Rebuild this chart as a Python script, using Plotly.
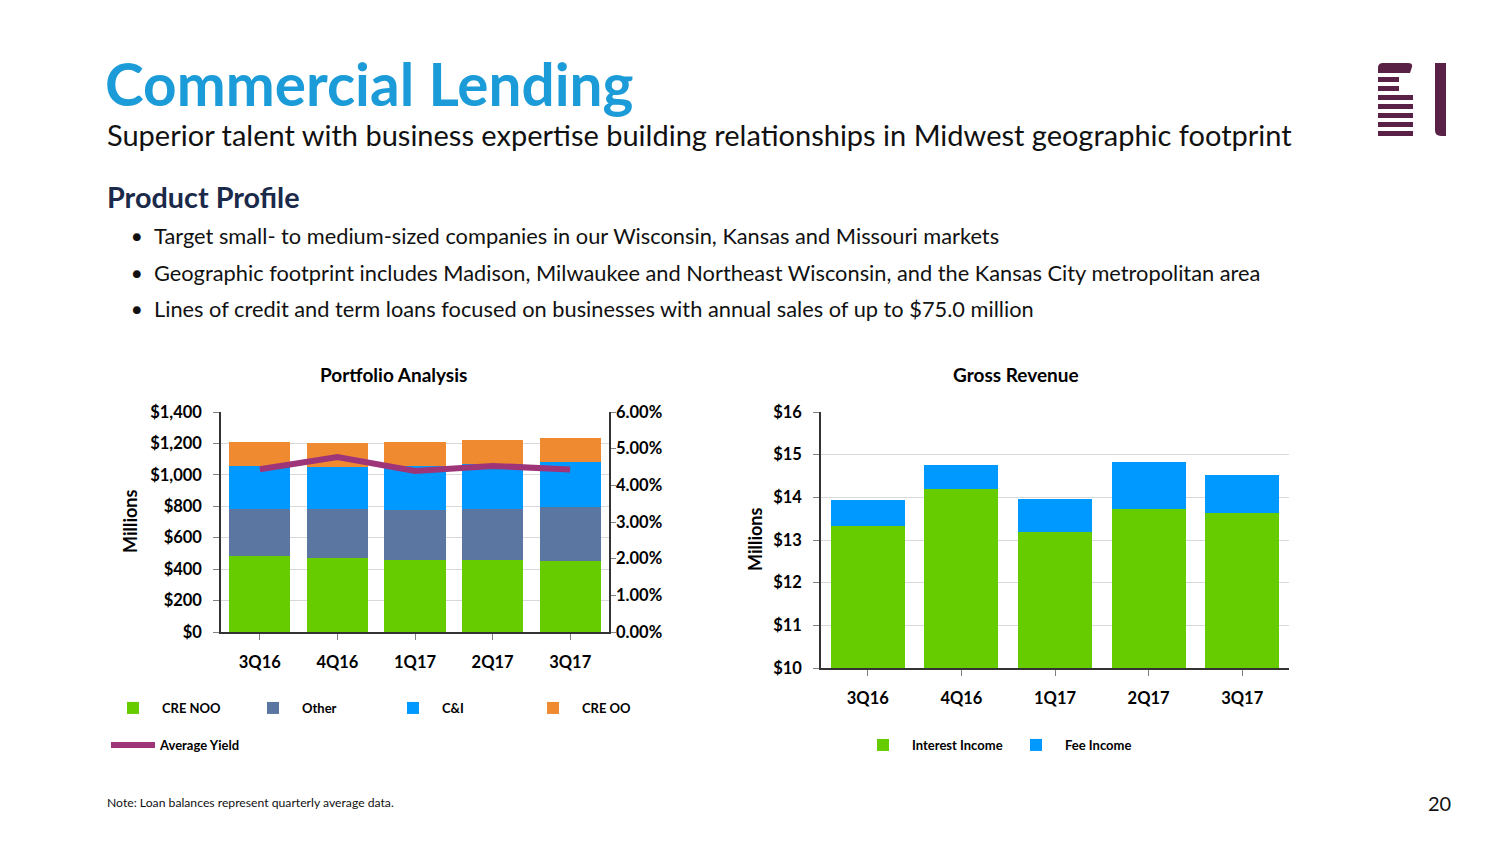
import plotly.graph_objects as go

W, H = 1504, 846
OFF = 8  # page body margin

# ---------------- data ----------------
quarters = ["3Q16", "4Q16", "1Q17", "2Q17", "3Q17"]
cre_noo = [484, 469, 459, 456, 450]
other = [297, 312, 315, 329, 344]
c_and_i = [277, 271, 284, 284, 288]
cre_oo = [150, 149, 154, 153, 155]
avg_yield = [0.0444, 0.0477, 0.0439, 0.0453, 0.0443]

interest_income = [13.32, 14.19, 13.18, 13.73, 13.63]
fee_income = [0.62, 0.57, 0.79, 1.10, 0.90]

bullets = [
    "Target small- to medium-sized companies in our Wisconsin, Kansas and Missouri markets",
    "Geographic footprint includes Madison, Milwaukee and Northeast Wisconsin, and the Kansas City metropolitan area",
    "Lines of credit and term loans focused on businesses with annual sales of up to $75.0 million",
]

# ---------------- style ----------------
GREEN = "#66CC00"
SLATE = "#5B76A0"
BLUE = "#0099FF"
ORANGE = "#EF8A31"
PURPLE = "#9E3579"
TITLE_BLUE = "#1B9BD7"
NAVY = "#1B2A4A"
TXT = "#111111"
LOGO = "#5A2146"
GRID = "#D9D9D9"
AX = "#333333"
FONT = "Lato"


def fx(x):
    return (x - OFF) / W


def fy(y):
    return 1 - (y - OFF) / H


fig = go.Figure()

# left chart bars
for name, vals, col in [("CRE NOO", cre_noo, GREEN), ("Other", other, SLATE),
                        ("C&I", c_and_i, BLUE), ("CRE OO", cre_oo, ORANGE)]:
    fig.add_trace(go.Bar(x=quarters, y=vals, name=name, marker=dict(color=col, line=dict(width=0)),
                         xaxis="x", yaxis="y", legend="legend"))
fig.add_trace(go.Scatter(x=quarters, y=avg_yield, name="Average Yield", mode="lines",
                         line=dict(color=PURPLE, width=6), xaxis="x", yaxis="y2", legend="legend2"))

# right chart bars
for name, vals, col in [("Interest Income", interest_income, GREEN), ("Fee Income", fee_income, BLUE)]:
    fig.add_trace(go.Bar(x=quarters, y=vals, name=name, marker=dict(color=col, line=dict(width=0)),
                         xaxis="x2", yaxis="y3", legend="legend3"))

tickfont = dict(family=FONT, size=16.5, color="#000000", weight="bold")
legfont = dict(family=FONT, size=13, color="#000000", weight="bold")

common_x = dict(type="category", showgrid=False, showline=True, linecolor=AX, linewidth=1.5,
                ticks="outside", ticklen=6, tickcolor="#808080", tickfont=tickfont,
                ticklabelstandoff=8, range=[-0.5, 4.5], fixedrange=True, automargin=False)

fig.update_layout(
    width=W, height=H, autosize=False,
    margin=dict(l=0, r=0, t=0, b=0, autoexpand=False),
    paper_bgcolor="white", plot_bgcolor="white",
    barmode="stack", bargap=0.21,
    showlegend=True,
    xaxis=dict(domain=[fx(221), fx(609)], anchor="y", **common_x),
    yaxis=dict(domain=[fy(632), fy(412)], anchor="x", range=[0, 1400], dtick=200,
               tickprefix="$", tickformat=",d", showgrid=True, gridcolor=GRID, gridwidth=1,
               showline=True, linecolor=AX, linewidth=1.5, ticks="outside", ticklen=6,
               tickcolor="#808080", tickfont=tickfont, ticklabelstandoff=8, zeroline=False,
               automargin=False),
    yaxis2=dict(overlaying="y", side="right", anchor="x", range=[0, 0.06], dtick=0.01,
                tickformat=".2%", showgrid=False, showline=True, linecolor=AX, linewidth=1.5,
                ticks="outside", ticklen=5, tickcolor="#808080", tickfont=tickfont,
                ticklabelstandoff=-3, zeroline=False, automargin=False),
    xaxis2=dict(domain=[fx(821), fx(1289)], anchor="y3", **common_x),
    yaxis3=dict(domain=[fy(668), fy(412)], anchor="x2", range=[10, 16], dtick=1,
                tickprefix="$", showgrid=True, gridcolor=GRID, gridwidth=1,
                showline=True, linecolor=AX, linewidth=1.5, ticks="outside", ticklen=6,
                tickcolor="#808080", tickfont=tickfont, ticklabelstandoff=8, zeroline=False,
                automargin=False),
    legend=dict(orientation="h", x=fx(104), y=fy(708), xanchor="left", yanchor="middle",
                entrywidth=77, itemwidth=48, font=legfont, bgcolor="rgba(0,0,0,0)",
                traceorder="normal"),
    legend2=dict(orientation="h", x=fx(106), y=fy(745), xanchor="left", yanchor="middle",
                 itemwidth=44, font=legfont, bgcolor="rgba(0,0,0,0)"),
    legend3=dict(orientation="h", x=fx(854), y=fy(745), xanchor="left", yanchor="middle",
                 entrywidth=90, itemwidth=48, font=legfont, bgcolor="rgba(0,0,0,0)",
                 traceorder="normal"),
)

ann = []


def text(x, y, s, size, color=TXT, weight="normal", xanchor="left", angle=0):
    ann.append(dict(x=fx(x), y=fy(y), xref="paper", yref="paper", text=s, showarrow=False,
                    xanchor=xanchor, yanchor="middle", textangle=angle,
                    font=dict(family=FONT, size=size, color=color, weight=weight)))


text(103, 83, "Commercial Lending", 58.5, TITLE_BLUE, "bold")
text(105, 134, "Superior talent with business expertise building relationships in Midwest geographic footprint", 29)
text(105, 197, "Product Profile", 28.8, NAVY, "bold")
for i, b in enumerate(bullets):
    yy = 236 + 36 * i
    text(130, yy, "\u25CF", 16)
    text(152, yy, b, 21.8)
text(393, 374, "Portfolio Analysis", 19, "#000000", "bold", xanchor="center")
text(1016, 374, "Gross Revenue", 19, "#000000", "bold", xanchor="center")
text(130, 522, "Millions", 18, "#000000", "bold", xanchor="center", angle=-90)
text(755, 540, "Millions", 18, "#000000", "bold", xanchor="center", angle=-90)
text(105, 802, "Note: Loan balances represent quarterly average data.", 12.2)
text(1453, 803, "20", 20, xanchor="right")
fig.update_layout(annotations=ann)

# ---------------- logo ----------------
shapes = []


def P(x, y):
    return f"{fx(x):.5f},{fy(y):.5f}"


def rect(x0, y0, x1, y1):
    shapes.append(dict(type="rect", xref="paper", yref="paper", x0=fx(x0), x1=fx(x1),
                       y0=fy(y1), y1=fy(y0), fillcolor=LOGO, line=dict(width=0)))


# top piece with rounded top corners
shapes.append(dict(type="path", xref="paper", yref="paper", fillcolor=LOGO, line=dict(width=0),
                   path=(f"M{P(1378,73)} L{P(1378,68)} Q{P(1378,63)} {P(1383,63)} "
                         f"L{P(1408,63)} Q{P(1413,63)} {P(1412,67)} L{P(1410,73)} Z")))
rect(1378, 77, 1399, 82)
rect(1378, 86, 1399, 91)
for yy in [95, 104, 113, 122, 131]:
    rect(1378, yy, 1413, yy + 5)
shapes.append(dict(type="path", xref="paper", yref="paper", fillcolor=LOGO, line=dict(width=0),
                   path=(f"M{P(1435,63)} L{P(1446,63)} L{P(1446,136)} L{P(1441,136)} "
                         f"Q{P(1435,136)} {P(1435,130)} Z")))
fig.update_layout(shapes=shapes)

fig.write_html("out.html")
